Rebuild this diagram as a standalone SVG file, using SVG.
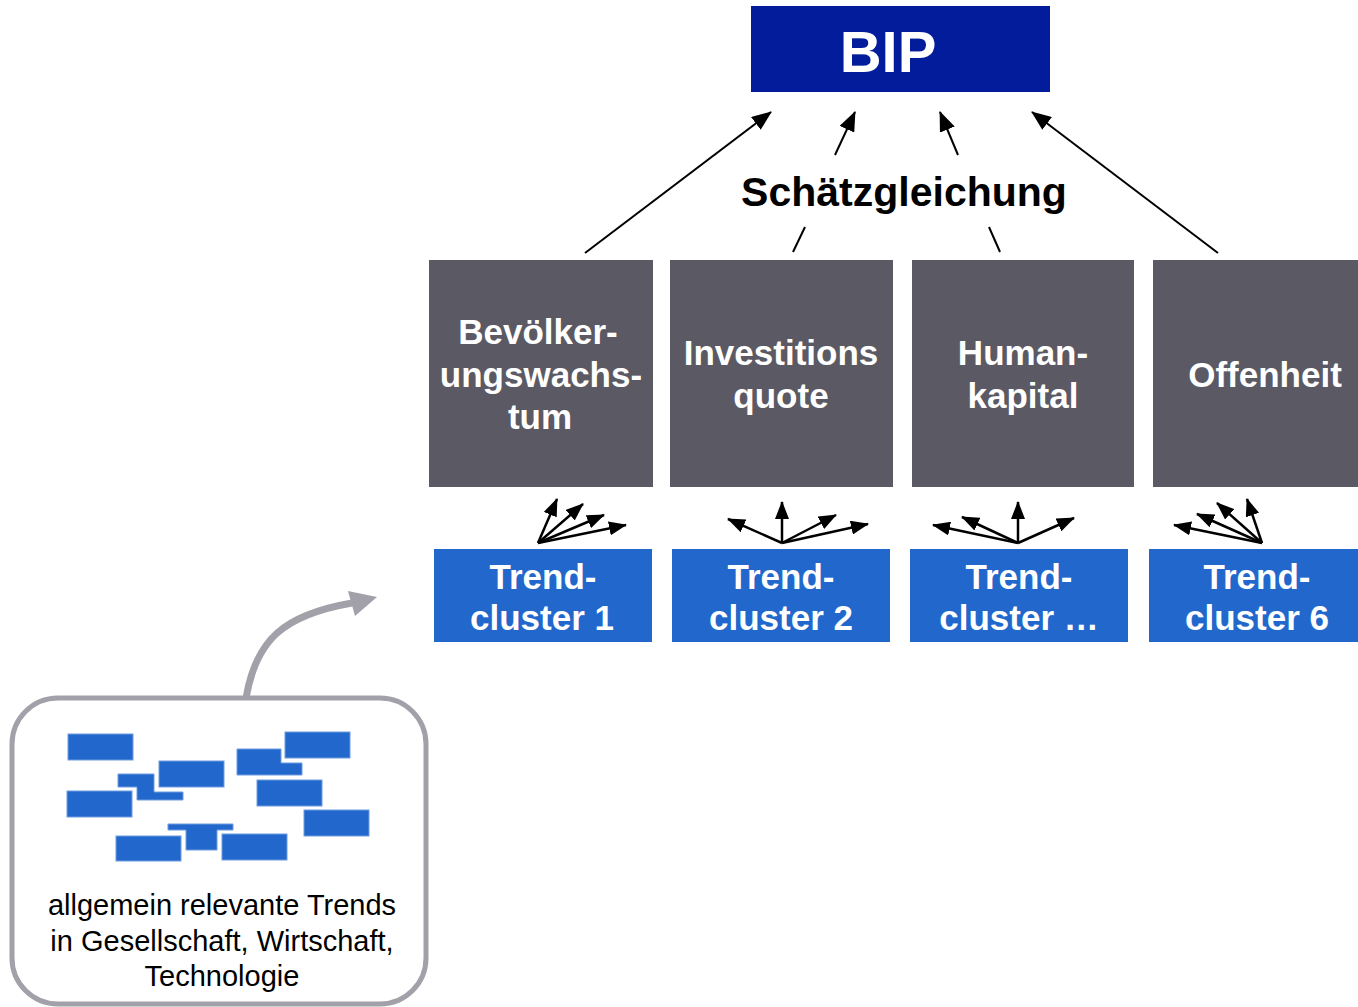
<svg xmlns="http://www.w3.org/2000/svg" width="1358" height="1007" viewBox="0 0 1358 1007">
<defs>
<marker id="ah" viewBox="0 0 20 16" refX="19" refY="8" markerWidth="20" markerHeight="16" markerUnits="userSpaceOnUse" orient="auto"><path d="M0,0 L20,8 L0,16 Z" fill="#000"/></marker>
<marker id="as" viewBox="0 0 18 14" refX="17" refY="7" markerWidth="18" markerHeight="14" markerUnits="userSpaceOnUse" orient="auto"><path d="M0,0 L18,7 L0,14 Z" fill="#000"/></marker>
</defs>
<style>
.gray{fill:#5b5a64}
.blue{fill:#2268cc}
.wt{font-family:"Liberation Sans",Arial,sans-serif;font-weight:bold;fill:#fff;text-anchor:middle}
.big{stroke:#000;stroke-width:2;fill:none}
.sm{stroke:#000;stroke-width:2.5;fill:none}
.mini{fill:#2268cc;stroke:#6f9be0;stroke-width:1}
</style>
<g id="bip"><rect x="751" y="6" width="299" height="86" fill="#021c9c"/><text x="888" y="72" class="wt" font-size="58">BIP</text></g>
<g id="schaetz"><text x="904" y="206" font-family="Liberation Sans,Arial,sans-serif" font-weight="bold" font-size="41" text-anchor="middle" fill="#000">Schätzgleichung</text></g>
<g id="g1"><rect x="429" y="260" width="224" height="227" class="gray"/><text class="wt" font-size="35"><tspan x="538" y="344">Bevölker-</tspan><tspan x="541" y="387">ungswachs-</tspan><tspan x="540" y="429">tum</tspan></text></g>
<g id="g2"><rect x="670" y="260" width="223" height="227" class="gray"/><text class="wt" font-size="35"><tspan x="781" y="365">Investitions</tspan><tspan x="781" y="408">quote</tspan></text></g>
<g id="g3"><rect x="912" y="260" width="222" height="227" class="gray"/><text class="wt" font-size="35"><tspan x="1023" y="365">Human-</tspan><tspan x="1023" y="408">kapital</tspan></text></g>
<g id="g4"><rect x="1153" y="260" width="205" height="227" class="gray"/><text class="wt" font-size="35"><tspan x="1265" y="387">Offenheit</tspan></text></g>
<g id="c1"><rect x="434" y="549" width="218" height="93" class="blue"/><text class="wt" font-size="35"><tspan x="543" y="589">Trend-</tspan><tspan x="542" y="630">cluster 1</tspan></text></g>
<g id="c2"><rect x="672" y="549" width="218" height="93" class="blue"/><text class="wt" font-size="35"><tspan x="781" y="589">Trend-</tspan><tspan x="781" y="630">cluster 2</tspan></text></g>
<g id="c3"><rect x="910" y="549" width="218" height="93" class="blue"/><text class="wt" font-size="35"><tspan x="1019" y="589">Trend-</tspan><tspan x="1019" y="630">cluster …</tspan></text></g>
<g id="c6"><rect x="1149" y="549" width="209" height="93" class="blue"/><text class="wt" font-size="35"><tspan x="1257" y="589">Trend-</tspan><tspan x="1257" y="630">cluster 6</tspan></text></g>
<g id="trends">
<rect x="12" y="698" width="414" height="306" rx="46" fill="#fff" stroke="#a2a1aa" stroke-width="5"/>
<rect x="68" y="734" width="65" height="26" class="mini"/>
<rect x="159" y="761" width="65" height="26" class="mini"/>
<path d="M118,774 H154 V792 H183 V800 H137 V787 H118 Z" class="mini"/>
<rect x="67" y="791" width="65" height="26" class="mini"/>
<path d="M237,749 H281 V763 H302 V775 H237 Z" class="mini"/>
<rect x="285" y="732" width="65" height="26" class="mini"/>
<rect x="257" y="780" width="65" height="26" class="mini"/>
<rect x="304" y="810" width="65" height="26" class="mini"/>
<path d="M168,824 H233 V830 H217 V850 H186 V830 H168 Z" class="mini"/>
<rect x="116" y="836" width="65" height="25" class="mini"/>
<rect x="222" y="834" width="65" height="26" class="mini"/>
<text font-family="Liberation Sans,Arial,sans-serif" font-size="29" text-anchor="middle" fill="#000"><tspan x="222" y="915">allgemein relevante Trends</tspan><tspan x="222" y="951">in Gesellschaft, Wirtschaft,</tspan><tspan x="222" y="986">Technologie</tspan></text>
</g>
<g id="connectors">
<line x1="585" y1="253" x2="771" y2="112" class="big" marker-end="url(#ah)"/>
<line x1="835" y1="155" x2="855" y2="112" class="big" marker-end="url(#ah)"/>
<line x1="793" y1="252" x2="805" y2="227" class="big"/>
<line x1="958" y1="155" x2="940" y2="112" class="big" marker-end="url(#ah)"/>
<line x1="1000" y1="252" x2="989" y2="227" class="big"/>
<line x1="1218" y1="253" x2="1032" y2="112" class="big" marker-end="url(#ah)"/>
<line x1="538" y1="543" x2="557" y2="499" class="sm" marker-end="url(#as)"/>
<line x1="538" y1="543" x2="583" y2="504" class="sm" marker-end="url(#as)"/>
<line x1="538" y1="543" x2="604" y2="515" class="sm" marker-end="url(#as)"/>
<line x1="538" y1="543" x2="626" y2="525" class="sm" marker-end="url(#as)"/>
<line x1="782" y1="543" x2="728" y2="519" class="sm" marker-end="url(#as)"/>
<line x1="782" y1="543" x2="782" y2="502" class="sm" marker-end="url(#as)"/>
<line x1="782" y1="543" x2="836" y2="515" class="sm" marker-end="url(#as)"/>
<line x1="782" y1="543" x2="868" y2="524" class="sm" marker-end="url(#as)"/>
<line x1="1018" y1="543" x2="933" y2="525" class="sm" marker-end="url(#as)"/>
<line x1="1018" y1="543" x2="962" y2="517" class="sm" marker-end="url(#as)"/>
<line x1="1018" y1="543" x2="1018" y2="502" class="sm" marker-end="url(#as)"/>
<line x1="1018" y1="543" x2="1074" y2="518" class="sm" marker-end="url(#as)"/>
<line x1="1262" y1="543" x2="1174" y2="525" class="sm" marker-end="url(#as)"/>
<line x1="1262" y1="543" x2="1197" y2="514" class="sm" marker-end="url(#as)"/>
<line x1="1262" y1="543" x2="1217" y2="503" class="sm" marker-end="url(#as)"/>
<line x1="1262" y1="543" x2="1247" y2="499" class="sm" marker-end="url(#as)"/>
<path d="M246,698 C256,640 283,615 352,603" fill="none" stroke="#a2a1aa" stroke-width="7"/>
<path d="M377,597 L348,591 L355,616 Z" fill="#a2a1aa"/>
</g>
</svg>
